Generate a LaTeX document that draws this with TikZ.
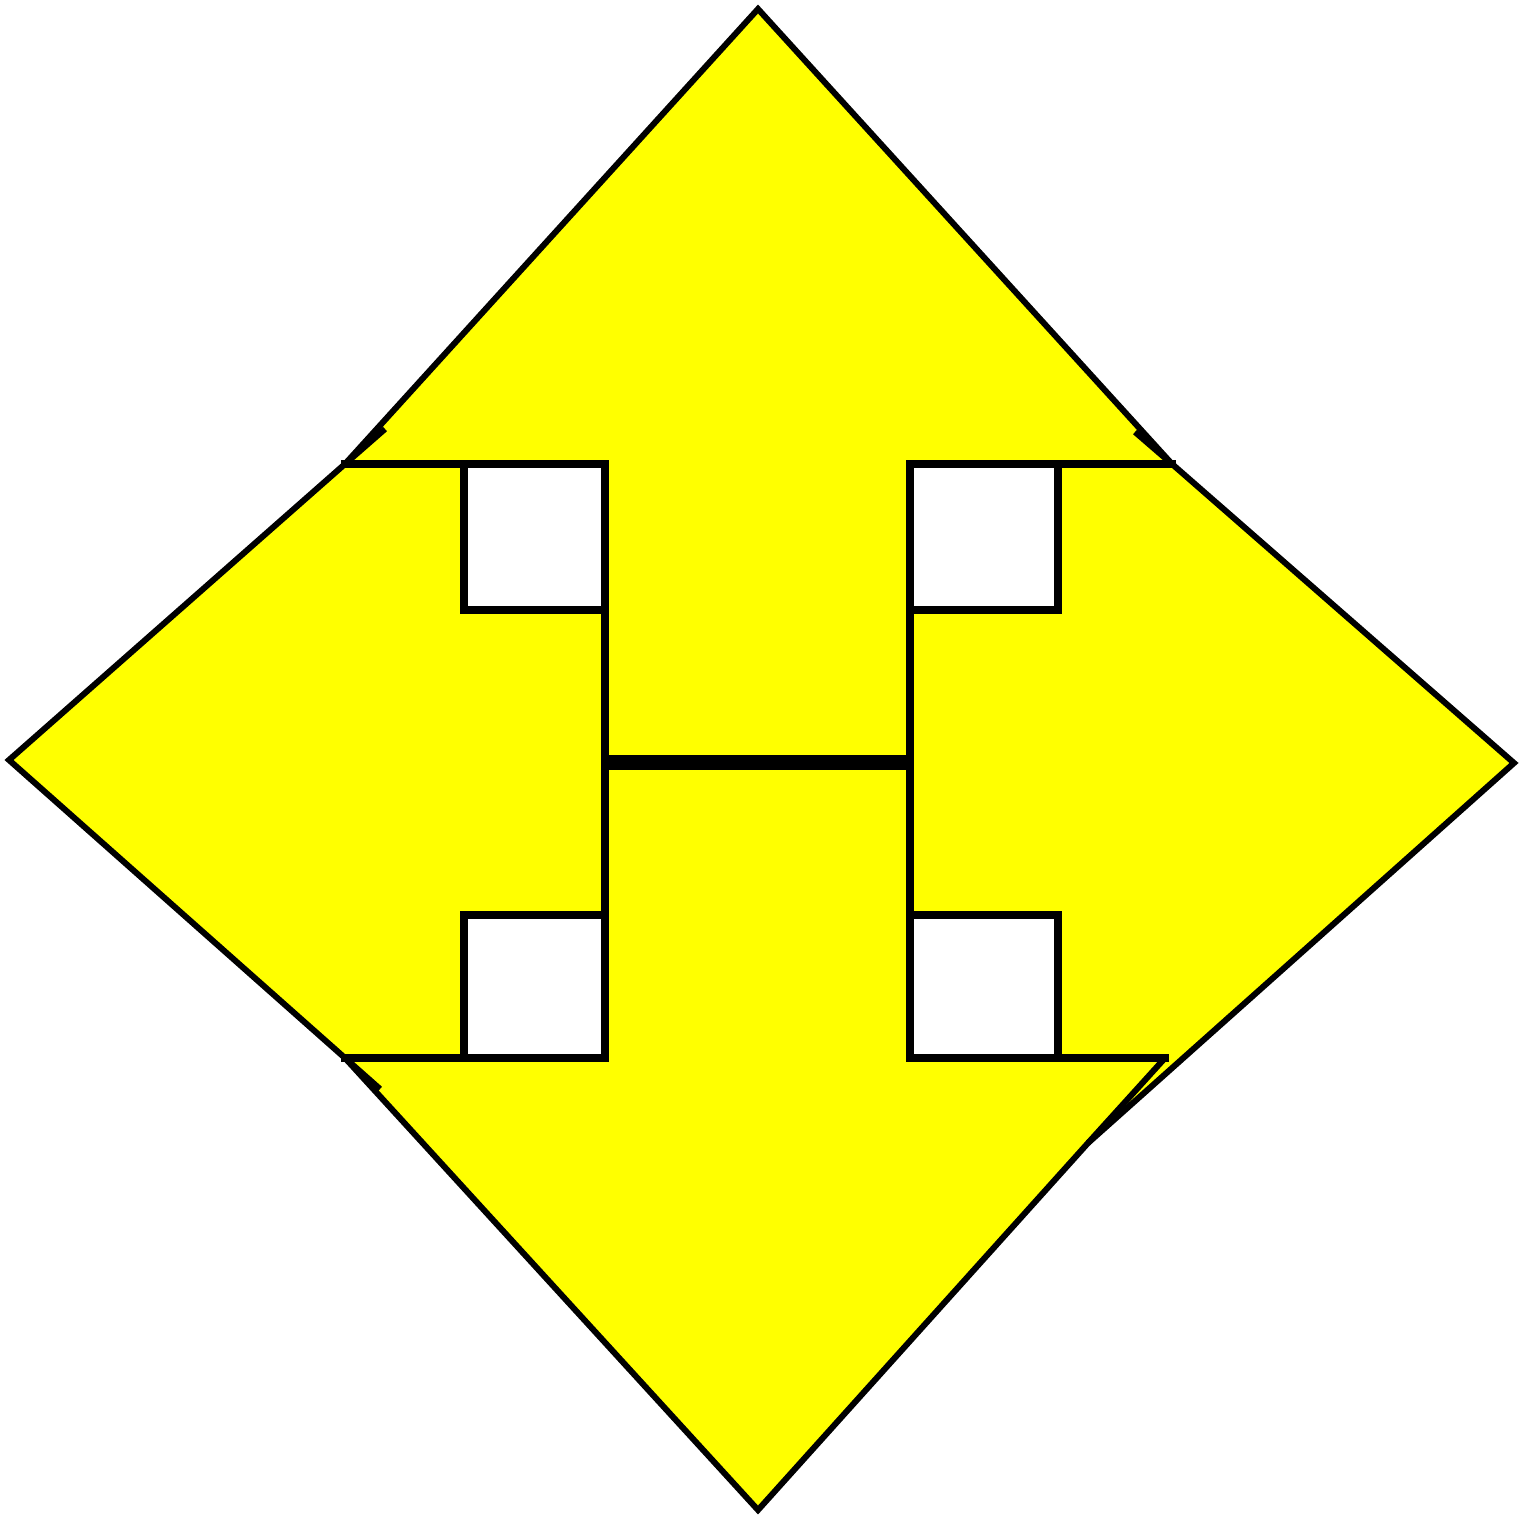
\documentclass[tikz,border=0pt]{standalone}
\usepackage{tikz}
\definecolor{signyellow}{RGB}{255,255,0}
\tikzset{
  outeredge/.style={draw=black,line width=6pt,line join=miter},
  inneredge/.style={draw=black,line width=8pt,line cap=rect},
  whitesq/.style={draw=black,fill=white,line width=8pt,line join=miter},
  centerbar/.style={draw=black,line width=15pt}
}
\begin{document}
\begin{tikzpicture}[x=1pt,y=-1pt]
\useasboundingbox (0,0) rectangle (1522,1522);
% coordinates
\coordinate (top) at (758,9);
\coordinate (tr) at (1172,464);
\coordinate (right) at (1514,763);
\coordinate (rb) at (1088,1143);
\coordinate (bot) at (758,1510);
\coordinate (bl) at (345,1058);
\coordinate (left) at (9,760);
\coordinate (tl) at (345,464);
\coordinate (btr) at (1165,1058);
\coordinate (v1t) at (605,464);
\coordinate (v1b) at (605,1058);
\coordinate (v2t) at (910,464);
\coordinate (v2b) at (910,1058);
\coordinate (cl) at (605,762);
\coordinate (cr) at (910,762);
\coordinate (tlx) at (385,429);
\coordinate (blx) at (380,1089);
\coordinate (trx) at (1135,432);
% yellow body
\fill[signyellow] (top) -- (tr) -- (right) -- (rb) -- (bot) -- (bl) -- (left) -- (tl) -- cycle;
% inner lines
\draw[inneredge] (tl) -- (v1t) -- (v1b) -- (bl);
\draw[inneredge] (tr) -- (v2t) -- (v2b) -- (btr);
\draw[outeredge] (btr) -- (rb);
% small overlaps of the side pieces
\draw[outeredge] (tl) -- (tlx);
\draw[outeredge] (bl) -- (blx);
\draw[outeredge] (tr) -- (trx);
% outer outline
\draw[outeredge] (top) -- (tr) -- (right) -- (rb) -- (bot) -- (bl) -- (left) -- (tl) -- cycle;
% white squares
\draw[whitesq] (464,464) rectangle (605,610);
\draw[whitesq] (910,464) rectangle (1058,610);
\draw[whitesq] (464,915) rectangle (605,1058);
\draw[whitesq] (910,915) rectangle (1058,1058);
% centre bar
\draw[centerbar] (cl) -- (cr);
\end{tikzpicture}
\end{document}
